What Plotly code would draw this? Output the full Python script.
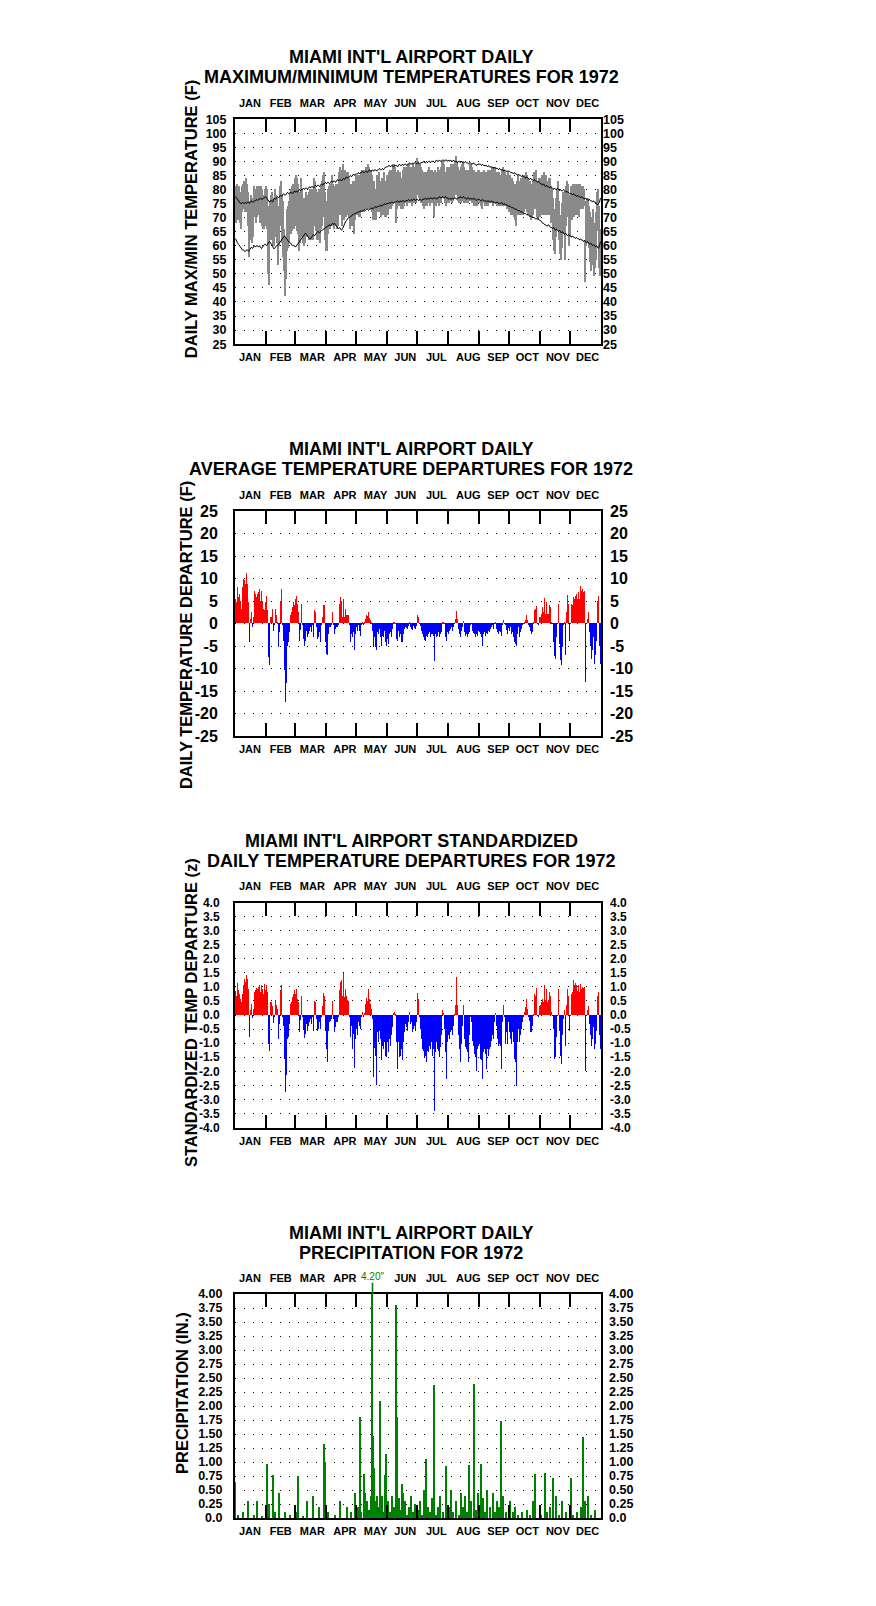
import numpy as np
import plotly.graph_objects as go

# ---------------------------------------------------------------- data
MONTHS = ["JAN", "FEB", "MAR", "APR", "MAY", "JUN", "JUL", "AUG", "SEP", "OCT", "NOV", "DEC"]
DAYS_IN_MONTH = [31, 29, 31, 30, 31, 30, 31, 31, 30, 31, 30, 31]

# daily maximum temperature (F), Jan..Dec 1972
tmax = [
    81, 79, 82, 80, 81, 79, 77, 81, 82, 83, 82, 84, 82, 79, 70, 76, 78, 75, 77, 81, 80, 80, 81, 80, 81, 79, 81, 80, 78, 77, 80,
    81, 80, 74, 68, 76, 78, 79, 75, 77, 80, 78, 77, 73, 74, 81, 83, 78, 76, 66, 63, 63, 73, 74, 76, 79, 80, 81, 82, 81,
    84, 85, 84, 82, 78, 79, 84, 80, 77, 76, 77, 79, 77, 78, 79, 80, 79, 80, 78, 84, 83, 80, 78, 79, 80, 78, 81, 83, 85, 86, 79,
    76, 75, 80, 81, 82, 82, 85, 82, 80, 81, 82, 82, 82, 86, 88, 87, 84, 89, 85, 87, 86, 86, 86, 84, 79, 82, 81, 83, 78, 83,
    85, 84, 85, 85, 83, 86, 87, 86, 87, 87, 88, 88, 89, 88, 87, 87, 85, 80, 83, 80, 79, 85, 84, 86, 83, 81, 84, 84, 86, 83, 82,
    85, 84, 86, 87, 85, 87, 89, 89, 88, 86, 84, 87, 85, 86, 84, 84, 87, 88, 88, 88, 88, 89, 89, 88, 88, 88, 89, 88, 88, 89,
    91, 90, 89, 89, 88, 87, 86, 86, 85, 86, 86, 87, 88, 86, 87, 87, 86, 79, 87, 86, 86, 88, 86, 87, 88, 90, 90, 89, 86, 85, 88,
    87, 88, 88, 89, 88, 89, 89, 90, 92, 90, 88, 87, 86, 88, 89, 90, 88, 86, 87, 86, 87, 87, 89, 89, 88, 87, 87, 86, 86, 86, 87,
    87, 86, 86, 83, 86, 87, 86, 86, 86, 87, 86, 87, 87, 88, 87, 88, 88, 86, 86, 85, 86, 85, 84, 87, 88, 87, 86, 85, 84, 86,
    85, 85, 84, 84, 83, 82, 82, 82, 83, 85, 82, 83, 84, 84, 85, 85, 85, 86, 85, 84, 83, 83, 82, 82, 83, 86, 86, 87, 83, 83, 84,
    84, 84, 85, 84, 86, 83, 85, 83, 83, 84, 84, 81, 80, 77, 73, 72, 77, 80, 83, 76, 71, 70, 75, 79, 79, 72, 81, 83, 82, 75,
    78, 81, 81, 82, 82, 82, 82, 81, 82, 81, 82, 81, 81, 81, 80, 62, 76, 77, 77, 74, 72, 68, 70, 73, 66, 68, 72, 79, 80, 74, 66,
]

# daily minimum temperature (F)
tmin = [
    68, 68, 71, 69, 70, 68, 66, 72, 74, 73, 72, 75, 72, 67, 56, 62, 63, 61, 63, 70, 70, 68, 70, 71, 72, 68, 71, 67, 66, 66, 67,
    70, 66, 50, 46, 63, 62, 65, 60, 60, 63, 63, 61, 53, 60, 67, 70, 61, 56, 51, 42, 48, 58, 59, 61, 64, 64, 65, 66, 66,
    67, 68, 65, 64, 58, 61, 67, 63, 61, 60, 61, 63, 63, 63, 62, 63, 62, 64, 62, 67, 67, 65, 62, 62, 63, 61, 66, 67, 70, 70, 62,
    58, 58, 64, 67, 66, 67, 70, 67, 66, 67, 67, 66, 67, 71, 72, 71, 67, 72, 69, 71, 70, 71, 71, 70, 66, 67, 67, 68, 64, 69,
    71, 71, 72, 70, 70, 72, 72, 72, 72, 73, 74, 73, 74, 73, 74, 73, 72, 69, 70, 69, 69, 72, 72, 72, 72, 70, 72, 71, 72, 70, 70,
    72, 71, 73, 73, 73, 74, 75, 75, 75, 68, 73, 74, 74, 74, 73, 73, 73, 74, 75, 75, 74, 75, 76, 75, 75, 74, 75, 75, 75, 75,
    78, 79, 77, 76, 75, 75, 74, 73, 74, 75, 74, 75, 75, 74, 75, 75, 75, 70, 75, 74, 75, 75, 74, 75, 75, 77, 77, 77, 75, 74, 75,
    75, 75, 76, 76, 75, 76, 77, 78, 79, 78, 76, 75, 75, 75, 76, 77, 75, 75, 75, 75, 75, 76, 76, 77, 75, 75, 74, 74, 75, 74, 75,
    75, 75, 74, 73, 75, 75, 74, 75, 74, 74, 75, 75, 75, 75, 74, 75, 75, 75, 74, 74, 74, 74, 74, 74, 75, 74, 75, 74, 73, 73,
    72, 73, 71, 72, 71, 70, 69, 67, 71, 72, 71, 71, 71, 72, 71, 72, 73, 73, 72, 71, 71, 70, 69, 70, 71, 73, 74, 73, 70, 69, 71,
    70, 71, 72, 71, 74, 71, 73, 71, 71, 72, 71, 68, 68, 62, 58, 57, 63, 66, 72, 62, 57, 55, 59, 64, 65, 55, 67, 72, 70, 60,
    63, 70, 69, 71, 70, 71, 72, 71, 73, 70, 74, 73, 74, 73, 74, 47, 60, 61, 64, 59, 54, 51, 53, 57, 49, 52, 55, 65, 66, 52, 49,
]

# normal daily maximum (F)
normal_max = [
    77.5, 77, 76.5, 76, 75.5, 75, 75, 75.5, 75, 75, 75.5, 75, 75.5, 75.5, 75, 75.5, 76, 75.5, 75.5, 76, 76, 76.5, 76, 76.5, 76.5, 77, 76.5, 76.5, 77, 77, 77.5,
    77, 76.5, 76, 75.5, 76, 76, 75.5, 76.5, 77, 76.5, 77, 77.5, 77, 77.5, 78, 77.5, 78, 78.5, 78, 78, 78.5, 79, 78.5, 78.5, 79, 79, 78.5, 79, 79.5,
    79, 79.5, 79, 79.5, 80, 79.5, 80, 80, 80.5, 80, 80.5, 80.5, 80, 80.5, 81, 80.5, 81, 81, 80.5, 81, 81.5, 81, 81.5, 81.5, 81, 81.5, 82, 81.5, 82, 82, 82.5,
    82, 82.5, 82.5, 82, 82.5, 83, 82.5, 83, 83, 82.5, 83, 83.5, 83, 83.5, 83.5, 83, 83.5, 84, 83.5, 84, 84.5, 84, 84.5, 84.5, 85, 84.5, 85, 85.5, 85, 85.5,
    85.5, 85.5, 86, 85.5, 86, 86, 86.5, 86, 86, 86.5, 86.5, 86, 86.5, 87, 86.5, 86.5, 87, 86.5, 87, 87, 86.5, 87, 87, 87.5, 87, 87, 87.5, 87, 87.5, 88, 88,
    88, 88.5, 88.5, 88, 88.5, 88.5, 88, 88.5, 88.5, 88.5, 88, 88.5, 89, 88.5, 88.5, 89, 88.5, 89, 89, 88.5, 89, 89, 89.5, 89, 89, 89.5, 89, 89.5, 89.5, 89,
    89.5, 89.5, 89, 89.5, 89.5, 89.5, 90, 89.5, 89.5, 90, 89.5, 90, 90, 89.5, 90, 90, 90, 89.5, 90, 90.5, 90, 90, 90.5, 90, 90, 90.5, 90.5, 90, 90.5, 90.5, 90,
    90.5, 90, 90.5, 90, 90, 90.5, 90, 90, 90, 89.5, 90, 90, 89.5, 90, 89.5, 89.5, 89.5, 90, 89.5, 89.5, 89, 89.5, 89.5, 89, 89, 89.5, 89, 89, 88.5, 89, 89,
    89, 89, 88.5, 89, 88.5, 88.5, 88.5, 88.5, 88, 88.5, 88, 88, 88, 88, 87.5, 88, 87.5, 87.5, 87.5, 87, 87.5, 87, 87, 87, 86.5, 87, 86.5, 86.5, 86.5, 86.5,
    86.5, 86, 86, 86, 85.5, 86, 85.5, 85.5, 85, 85.5, 85, 85, 84.5, 85, 84.5, 84.5, 84, 84.5, 84, 84, 83.5, 84, 83.5, 83.5, 83, 83.5, 83, 83, 82.5, 83, 82.5,
    82, 82, 81.5, 82, 81.5, 81, 81.5, 81, 81, 80.5, 81, 80.5, 80.5, 80, 80.5, 80, 80, 80.5, 80, 79.5, 80, 79.5, 79.5, 80, 79.5, 79, 79.5, 79, 79, 78.5,
    78.5, 78.5, 78, 78.5, 78, 78, 77.5, 78, 77.5, 77.5, 77, 77.5, 77, 77, 76.5, 77, 76.5, 76.5, 76, 76.5, 76, 76, 75.5, 76, 75.5, 75.5, 75, 74.5, 75, 75.5, 77,
]

# normal daily minimum (F)
normal_min = [
    62.5, 61.5, 61, 60.5, 60, 59.5, 59, 58.5, 58.5, 58, 58, 58.5, 58.5, 58, 58.5, 59, 59.5, 59, 59.5, 60, 59.5, 60, 60, 59.5, 60, 59.5, 59, 59.5, 60, 60.5, 60.5,
    60, 60.5, 61, 61.5, 61, 60.5, 60, 59, 59, 59.5, 60, 60, 60.5, 61, 61.5, 62, 62.5, 63, 63.5, 63, 62.5, 62, 61.5, 61, 61, 60.5, 60, 60, 60,
    59.5, 60, 60.5, 61, 61.5, 62, 62.5, 63, 63.5, 64, 64.5, 64, 63.5, 63, 62.5, 62.5, 63, 63.5, 64, 63.5, 64, 64.5, 65, 65, 64.5, 65, 65.5, 65.5, 66, 66, 66.5,
    66.5, 67, 67, 67.5, 67, 67.5, 68, 67.5, 68, 67.5, 67, 66.5, 66, 66.5, 66, 65.5, 66, 67, 68, 68.5, 69, 69.5, 70, 70, 70.5, 70.5, 71, 71, 71.5, 71.5,
    71.5, 72, 72, 72, 72.5, 72, 72.5, 72.5, 73, 72.5, 73, 73, 72.5, 73, 73, 73.5, 73, 73.5, 73.5, 74, 73.5, 74, 74, 74, 74.5, 74, 74.5, 74.5, 75, 74.5, 75,
    75, 75, 75.5, 75, 75.5, 75.5, 75, 75.5, 75.5, 75.5, 76, 75.5, 75.5, 76, 75.5, 76, 76, 75.5, 76, 76, 76, 76.5, 76, 76, 76.5, 76, 76.5, 76.5, 76, 76.5,
    76.5, 76, 76.5, 76.5, 76, 76.5, 76.5, 76.5, 77, 76.5, 76.5, 77, 76.5, 77, 77, 76.5, 77, 77, 77, 76.5, 77, 77, 77.5, 77, 77, 77.5, 77, 77, 77.5, 77, 77,
    76.5, 77, 76.5, 76.5, 77, 76.5, 77, 77, 76.5, 77, 77, 77, 77.5, 77, 77, 77.5, 77, 77, 76.5, 77, 77, 76.5, 77, 76.5, 76.5, 77, 76.5, 76.5, 76, 76.5, 76.5,
    76.5, 76, 76, 76.5, 76, 76, 76, 75.5, 76, 76, 75.5, 75.5, 76, 75.5, 75.5, 75.5, 75, 75.5, 75.5, 75, 75, 75, 75.5, 75, 74.5, 75, 74.5, 74.5, 74.5, 74,
    74, 74, 73.5, 73.5, 73.5, 73, 73, 73, 72.5, 72.5, 72.5, 72, 72, 72, 71.5, 71.5, 71.5, 71, 71, 71, 70.5, 70.5, 70.5, 70, 70, 70, 69.5, 69.5, 70, 69.5, 69,
    69, 68.5, 68, 68, 67.5, 67.5, 67, 67, 67.5, 67, 66.5, 66.5, 66, 66.5, 66, 65.5, 66, 65.5, 65, 65.5, 65, 64.5, 65, 64.5, 64, 64.5, 64, 63.5, 64, 63.5,
    63.5, 63, 63.5, 63, 63, 62.5, 63, 62.5, 62.5, 62, 62.5, 62, 62, 61.5, 62, 61.5, 61, 61.5, 61, 60.5, 61, 60.5, 60, 60.5, 60, 59.5, 60, 59.5, 59, 60, 61.5,
]

# daily average temperature departure from normal (F)
departure = [
    5.5, 4.7, 8.1, 5.9, 6.6, 5.1, 3.3, 8.1, 9.9, 9.6, 8.8, 11.2, 8.8, 4.7, -4.1, 1.0, 2.5, -0.7, 1.5, 7.3, 6.6, 5.9, 6.6, 7.0, 7.7, 5.1, 7.3, 5.1, 3.3, 2.9, 4.7,
    6.2, 2.9, -7.5, -9.3, 1.4, 1.4, 3.3, -1.6, -0.2, 3.3, 1.8, 0.3, -5.3, -1.9, 5.1, 7.7, -0.3, -3.8, -10.4, -17.5, -13.3, -4.9, -4.1, -1.9, 1.8, 2.5, 3.6, 4.7, 4.0,
    5.5, 6.2, 4.4, 2.5, -3.8, -1.5, 4.4, -0.4, -3.4, -4.9, -3.8, -1.6, -3.0, -2.3, -1.6, -0.8, -1.9, -0.3, -3.0, 2.9, 2.5, -0.8, -3.4, -3.0, -1.9, -4.1, -0.4, 1.4, 4.0, 4.2, -4.1,
    -6.7, -7.1, -2.3, -0.8, -0.8, -0.2, 2.5, -0.4, -2.3, -1.2, -0.7, -0.8, -0.4, 4.4, 5.9, 5.1, 1.4, 5.5, 1.4, 3.3, 1.8, 1.8, 1.8, -0.2, -4.1, -2.3, -3.0, -1.9, -6.0, -2.3,
    -0.8, -1.6, -0.4, -1.6, -2.7, -0.2, 0.3, -0.2, 0.3, 1.0, 1.8, 1.6, 2.5, 1.2, 0.8, 0.3, -1.6, -5.3, -3.0, -5.3, -6.0, -1.9, -2.3, -1.2, -3.0, -4.9, -2.7, -3.0, -1.6, -4.1, -4.9,
    -3.4, -4.5, -2.3, -1.9, -3.0, -1.2, 0.2, 0.2, 0.1, -3.4, -3.8, -1.6, -3.0, -2.3, -4.1, -4.1, -2.3, -1.2, -0.8, -1.0, -1.2, -0.5, 0.2, -0.8, -1.2, -1.4, -0.5, -1.0, -1.2, -0.6,
    1.8, 1.5, -0.1, -0.5, -1.6, -2.3, -3.0, -3.6, -3.8, -2.7, -3.0, -2.3, -1.9, -3.0, -2.4, -2.3, -2.8, -8.4, -2.3, -3.0, -2.7, -1.9, -3.0, -2.3, -1.9, 0.2, 0.2, -0.1, -3.0, -3.8, -1.9,
    -2.3, -1.6, -1.2, -0.8, -1.6, -0.8, -0.1, 1.0, 2.7, 1.0, -1.2, -2.3, -3.0, -1.6, -0.8, 0.6, -1.9, -2.7, -2.4, -3.0, -2.3, -1.9, -0.4, -0.1, -1.6, -2.1, -2.4, -3.0, -2.4, -2.8, -1.6,
    -1.9, -2.3, -3.0, -5.1, -2.3, -1.9, -2.7, -2.1, -2.3, -1.6, -1.9, -1.2, -0.8, -0.4, -1.2, -0.1, 0.2, -1.2, -1.9, -2.3, -1.6, -2.0, -2.8, -0.2, 0.8, -0.1, -0.4, -1.4, -2.3, -0.9,
    -1.6, -0.8, -2.3, -1.9, -3.0, -4.1, -4.5, -5.1, -2.3, -0.8, -3.0, -1.9, -1.2, -0.4, -0.1, 0.3, 0.8, 1.8, 0.7, -0.4, -0.8, -1.6, -2.3, -1.9, 0.2, 3.0, 3.3, 3.8, -0.1, -0.3, 1.4,
    1.5, 2.1, 3.6, 2.5, 5.7, 2.1, 4.7, 2.1, 2.0, 4.0, 3.6, 0.3, -0.1, -4.1, -7.3, -7.9, -3.0, -0.1, 4.4, -4.5, -8.2, -9.3, -5.2, -0.4, 0.3, -6.9, 2.5, 6.4, 4.4, -3.9,
    -0.1, 4.4, 4.0, 5.9, 5.5, 6.0, 6.6, 5.5, 7.0, 5.5, 8.4, 7.3, 7.6, 7.1, 7.3, -13.0, -0.1, 1.0, 2.5, -2.0, -5.0, -8.0, -6.0, -3.0, -9.0, -7.0, -4.0, 5.0, 6.0, -5.0, -9.0,
]

# standardized daily departure (z)
std_departure = [
    0.86, 0.71, 1.17, 0.9, 0.77, 0.6, 0.48, 0.77, 1.07, 1.31, 1.19, 1.45, 1.29, 0.95, -0.77, 0.2, 0.42, -0.1, 0.24, 0.83, 0.89, 0.98, 0.93, 1.01, 1.07, 0.83, 1.07, 0.95, 0.77, 1.13, 0.89,
    1.1, 0.83, -1.01, -1.25, 0.48, 0.48, 0.33, -0.27, -0.03, 0.54, 0.36, 0.24, -0.83, -0.3, 0.9, 1.1, -0.04, -0.36, -1.55, -2.71, -2.1, -0.83, -0.77, -0.3, 0.42, 0.48, 0.65, 0.77, 0.9,
    0.77, 0.93, 0.6, 0.48, -0.6, -0.15, 0.71, -0.02, -0.5, -0.8, -0.65, -0.3, -0.54, -0.36, -0.24, -0.14, -0.3, -0.03, -0.54, 0.5, 0.48, -0.12, -0.54, -0.48, -0.24, -0.48, -0.06, 0.33, 0.81, 0.71, -0.54,
    -1.19, -1.67, -0.54, -0.24, -0.18, -0.12, 0.5, -0.12, -0.6, -0.42, -0.24, -0.24, -0.06, 0.9, 1.19, 1.25, 0.69, 1.52, 0.65, 0.95, 0.69, 0.54, 0.5, -0.02, -0.77, -0.36, -1.19, -0.65, -1.88, -0.83,
    -0.48, -0.71, -0.24, -0.36, -0.48, -0.06, 0.14, -0.06, 0.08, 0.42, 0.62, 0.5, 0.95, 0.6, 0.42, 0.24, -0.12, -2.2, -1.17, -1.43, -2.48, -0.6, -0.95, -0.54, -0.83, -1.6, -1.07, -1.19, -0.95, -1.43, -1.49,
    -0.95, -1.31, -0.83, -1.07, -0.71, -0.42, 0.1, 0.14, 0.06, -0.95, -1.9, -0.95, -1.49, -1.43, -1.19, -1.6, -0.95, -0.6, -0.3, -0.4, -0.54, -0.24, 0.14, -0.3, -0.24, -0.6, -0.48, -0.36, -0.54, -0.24,
    0.81, 0.6, -0.02, -0.48, -0.83, -1.19, -1.25, -1.49, -1.43, -1.67, -1.25, -1.31, -1.07, -1.19, -0.95, -1.43, -1.19, -3.39, -1.31, -0.95, -1.19, -1.25, -1.49, -1.13, -0.71, 0.18, 0.1, -0.48, -1.31, -2.26, -0.95,
    -0.71, -0.83, -0.6, -0.48, -0.71, -0.36, 0.02, 0.36, 1.37, 0.36, -0.71, -1.19, -1.67, -1.01, -0.36, 0.36, -0.83, -1.13, -1.19, -1.31, -1.67, -0.71, -0.02, -0.24, -0.89, -1.07, -1.37, -1.49, -1.96, -1.19, -1.07,
    -1.01, -1.55, -1.6, -2.26, -1.31, -1.19, -1.37, -1.9, -1.19, -1.43, -1.19, -1.13, -0.89, -0.71, -0.83, -0.24, 0.1, -0.36, -0.83, -1.07, -1.01, -1.07, -1.9, -0.24, 0.38, -0.02, -1.01, -0.6, -1.01, -0.24,
    -0.6, -0.83, -1.01, -0.6, -0.95, -1.55, -1.67, -2.5, -0.95, -0.48, -0.95, -0.71, -0.48, -0.24, -0.06, 0.12, 0.3, 0.57, 0.24, -0.06, -0.18, -0.6, -0.6, -0.36, 0.06, 0.77, 0.71, 0.98, -0.01, -0.06, 0.33,
    0.36, 0.48, 0.6, 0.48, 1.07, 0.54, 0.95, 0.48, 0.54, 0.83, 0.71, 0.12, -0.01, -0.48, -1.55, -1.49, -0.77, -0.01, 0.93, -0.54, -1.43, -1.73, -0.71, -0.12, 0.18, -1.07, 0.36, 0.95, 0.71, -0.54,
    -0.01, 0.77, 0.83, 1.25, 1.07, 1.17, 1.07, 0.86, 1.07, 0.83, 1.13, 0.95, 1.01, 0.98, 1.0, -1.96, -0.01, 0.18, 0.35, -0.3, -0.7, -1.1, -0.85, -0.4, -1.2, -1.0, -0.55, 0.7, 0.85, -0.7, -1.2,
]

# precipitation: day of year (1-based) and amount (inches) for days with rain
precip_day = [
    1, 4, 9, 14, 20, 23, 28, 33, 35, 39, 41, 45, 51, 56, 63, 64, 69, 73, 79, 85, 90, 91,
    94, 101, 106, 113, 117, 121, 124, 126, 127, 130, 131, 133, 135, 137, 138, 139, 140, 141,
    143, 145, 146, 148, 150, 151, 152, 154, 156, 158, 160, 162, 163, 165, 166, 168, 169, 171,
    173, 175, 177, 179, 181, 184, 186, 188, 190, 192, 194, 196, 198, 200, 202, 204, 206, 209,
    212, 215, 217, 219, 222, 225, 227, 229, 231, 233, 235, 237, 240, 242, 244, 246, 247, 249,
    251, 253, 256, 259, 261, 263, 265, 267, 269, 272, 276, 279, 281, 284, 288, 293, 296, 299,
    301, 307, 311, 313, 316, 319, 322, 325, 328, 332, 337, 339, 343, 347, 349, 351, 354, 357, 361,
]
precip_in = [
    0.65, 0.05, 0.10, 0.30, 0.05, 0.30, 0.02, 0.97, 0.25, 0.76, 0.10, 0.45, 0.10, 0.05, 0.10, 0.75, 0.02, 0.30, 0.40, 0.20, 1.32, 1.00,
    0.10, 0.05, 0.30, 0.20, 0.10, 0.45, 0.20, 1.81, 0.10, 0.78, 0.45, 0.30, 0.15, 0.40, 4.20, 1.46, 0.90, 0.30,
    0.40, 0.20, 2.09, 0.40, 0.10, 0.77, 1.15, 0.30, 0.10, 0.40, 0.20, 3.81, 1.80, 0.35, 0.15, 0.60, 0.45, 0.30,
    0.05, 0.20, 0.40, 0.10, 0.25, 0.15, 0.30, 0.05, 0.50, 1.05, 0.20, 0.10, 0.35, 2.37, 0.05, 0.20, 0.40, 0.10,
    0.93, 0.20, 0.50, 0.10, 0.30, 0.05, 0.45, 0.20, 0.40, 0.10, 0.94, 0.30, 2.39, 0.15, 0.45, 0.20, 0.97, 0.35,
    0.10, 0.50, 0.20, 0.45, 0.10, 0.30, 0.20, 1.74, 0.40, 0.10, 0.30, 0.10, 0.20, 0.05, 0.10, 0.15, 0.05, 0.30,
    0.78, 0.05, 0.80, 0.10, 0.20, 0.72, 0.40, 0.05, 0.30, 0.10, 0.72, 0.05, 0.10, 0.20, 1.45, 0.30, 0.40, 0.05, 0.15,
]

# ---------------------------------------------------------------- derived (for drawing only)
N_DAYS = sum(DAYS_IN_MONTH)
days = np.arange(1, N_DAYS + 1)
tmax_a = np.array(tmax, dtype=float)
tmin_a = np.array(tmin, dtype=float)
precip = np.zeros(N_DAYS)
precip[np.array(precip_day) - 1] = precip_in
for name, arr in [("tmax", tmax), ("tmin", tmin), ("normal_max", normal_max), ("normal_min", normal_min),
                  ("departure", departure), ("std_departure", std_departure)]:
    assert len(arr) == N_DAYS, (name, len(arr))
assert len(precip_day) == len(precip_in)

month_bounds = list(np.cumsum(DAYS_IN_MONTH)[:-1] + 0.5)
MONTH_LABEL_X = [15.5, 46.3, 77.8, 110.3, 141.0, 170.8, 201.8, 233.8, 263.8, 292.8, 323.3, 353.2]

# ---------------------------------------------------------------- layout helpers
# page is 876x1606; leave room for the page's own margins around the figure
PAGE_W, PAGE_H = 876, 1606
OFF_X, OFF_TOP, OFF_BOTTOM = 8, 16, 16
Y_STRETCH = 1.0108          # vertical calibration of the captured page
W, H = PAGE_W - 2 * OFF_X, PAGE_H - OFF_TOP - OFF_BOTTOM
FONT = "Liberation Sans, Arial, Helvetica, sans-serif"
PLOT_X = (235, 601)
RED, BLUE, GRAY, GREEN = "#ff0000", "#0000ff", "#8a8a8a", "#008000"


def fx(px):
    return (px - OFF_X) / W


def fy(py):
    return 1 - (Y_STRETCH * py - OFF_TOP) / H


def fmt_z(v):
    return f"{v:.1f}"


def fmt_p(v):
    return "0.0" if v == 0 else f"{v:.2f}"


panels = [
    dict(top=119, bottom=344, yrange=[25, 105], tv=list(range(25, 106, 5)),
         tt=[str(v) for v in range(25, 106, 5)], tsize=12.5, lstand=4, rstand=1,
         title=["MIAMI INT'L AIRPORT DAILY", "MAXIMUM/MINIMUM TEMPERATURES FOR 1972"], title_y=[56.7, 76.7],
         ytitle="DAILY MAX/MIN TEMPERATURE (F)", ytitle_xy=(191, 219), top_months=MONTHS),
    dict(top=511, bottom=736, yrange=[-25, 25], tv=list(range(-25, 26, 5)),
         tt=[str(v) for v in range(-25, 26, 5)], tsize=16, lstand=12, rstand=8,
         title=["MIAMI INT'L AIRPORT DAILY", "AVERAGE TEMPERATURE DEPARTURES FOR 1972"], title_y=[448.5, 469],
         ytitle="DAILY TEMPERATURE DEPARTURE (F)", ytitle_xy=(186, 635), top_months=MONTHS),
    dict(top=902.5, bottom=1127.5, yrange=[-4, 4], tv=[v / 2 for v in range(-8, 9)],
         tt=[fmt_z(v / 2) for v in range(-8, 9)], tsize=12, lstand=11, rstand=8,
         title=["MIAMI INT'L AIRPORT STANDARDIZED", "DAILY TEMPERATURE DEPARTURES FOR 1972"], title_y=[840.7, 861.2],
         ytitle="STANDARDIZED TEMP DEPARTURE (z)", ytitle_xy=(191, 1013), top_months=MONTHS),
    dict(top=1294, bottom=1518, yrange=[0, 4], tv=[v / 4 for v in range(0, 17)],
         tt=[fmt_p(v / 4) for v in range(0, 17)], tsize=12.5, lstand=8, rstand=7,
         title=["MIAMI INT'L AIRPORT DAILY", "PRECIPITATION FOR 1972"], title_y=[1233.3, 1253.3],
         ytitle="PRECIPITATION (IN.)", ytitle_xy=(182, 1393),
         top_months=[m if m != "MAY" else "" for m in MONTHS]),
]

fig = go.Figure()
layout = dict(width=W, height=H, margin=dict(l=0, r=0, t=0, b=0), autosize=False,
              paper_bgcolor="white", plot_bgcolor="white", showlegend=False,
              barmode="overlay", bargap=0, font=dict(family=FONT, color="black"),
              annotations=[])


def ax_name(kind, n):
    return f"{kind}axis" if n == 1 else f"{kind}axis{n}"


def ax_ref(kind, n):
    return kind if n == 1 else f"{kind}{n}"


month_font = dict(family=FONT, size=11, color="black", weight="bold")
minor_ticks = dict(tickmode="array", tickvals=month_bounds, ticks="inside", ticklen=13,
                   tickwidth=1.5, tickcolor="black", showgrid=False)

for i, p in enumerate(panels):
    xb, xt, yl, yr = 2 * i + 1, 2 * i + 2, 2 * i + 1, 2 * i + 2
    ydom = [fy(p["bottom"]), fy(p["top"])]
    xdom = [fx(PLOT_X[0]), fx(PLOT_X[1])]
    yfont = dict(family=FONT, size=p["tsize"], color="black", weight="bold")
    layout[ax_name("x", xb)] = dict(
        domain=xdom, range=[0.5, N_DAYS + 0.5], anchor=ax_ref("y", yl),
        tickmode="array", tickvals=MONTH_LABEL_X, ticktext=MONTHS, ticks="",
        tickfont=month_font, ticklabelstandoff=2,
        showline=True, linecolor="black", linewidth=2, mirror=True,
        showgrid=False, zeroline=False, minor=minor_ticks, fixedrange=True)
    layout[ax_name("x", xt)] = dict(
        overlaying=ax_ref("x", xb), side="top", range=[0.5, N_DAYS + 0.5], anchor=ax_ref("y", yl),
        tickmode="array", tickvals=MONTH_LABEL_X, ticktext=p["top_months"], ticks="",
        tickfont=month_font, ticklabelstandoff=9,
        showline=False, showgrid=False, zeroline=False, minor=minor_ticks, fixedrange=True)
    layout[ax_name("y", yl)] = dict(
        domain=ydom, range=p["yrange"], anchor=ax_ref("x", xb),
        tickmode="array", tickvals=p["tv"], ticktext=p["tt"], ticks="",
        tickfont=yfont, ticklabelstandoff=p["lstand"],
        showline=True, linecolor="black", linewidth=2, mirror=True,
        showgrid=True, gridcolor="black", gridwidth=1, griddash="1px,8px",
        zeroline=False, fixedrange=True)
    layout[ax_name("y", yr)] = dict(
        overlaying=ax_ref("y", yl), side="right", range=p["yrange"], anchor=ax_ref("x", xb),
        tickmode="array", tickvals=p["tv"], ticktext=p["tt"], ticks="",
        tickfont=yfont, ticklabelstandoff=p["rstand"],
        showline=False, showgrid=False, zeroline=False, fixedrange=True)
    # empty trace so the top / right helper axes are always rendered
    fig.add_trace(go.Scatter(x=[], y=[], xaxis=ax_ref("x", xt), yaxis=ax_ref("y", yr),
                             showlegend=False, hoverinfo="skip"))
    # titles
    for line, ty in zip(p["title"], p["title_y"]):
        layout["annotations"].append(dict(
            text=line, x=fx(411), y=fy(ty), xref="paper", yref="paper",
            xanchor="center", yanchor="middle", showarrow=False,
            font=dict(family=FONT, size=18, color="black", weight="bold")))
    tx, ty = p["ytitle_xy"]
    layout["annotations"].append(dict(
        text=p["ytitle"], x=fx(tx), y=fy(ty), xref="paper", yref="paper",
        xanchor="center", yanchor="middle", showarrow=False, textangle=-90,
        font=dict(family=FONT, size=16.5, color="black", weight="bold")))

# ---- panel 1: daily max/min range bars with normal lines
fig.add_trace(go.Bar(x=days, y=tmax_a - tmin_a, base=tmin_a, width=1.15,
                     marker=dict(color=GRAY, line=dict(width=0)),
                     xaxis="x", yaxis="y", hoverinfo="skip"))
fig.add_trace(go.Scatter(x=days, y=normal_max, mode="lines", line=dict(color="black", width=1),
                         xaxis="x", yaxis="y", hoverinfo="skip"))
fig.add_trace(go.Scatter(x=days, y=normal_min, mode="lines", line=dict(color="black", width=1),
                         xaxis="x", yaxis="y", hoverinfo="skip"))

# ---- panel 2: departures
fig.add_trace(go.Bar(x=days, y=departure, width=1,
                     marker=dict(color=[RED if v > 0 else BLUE for v in departure], line=dict(width=0)),
                     xaxis="x3", yaxis="y3", hoverinfo="skip"))

# ---- panel 3: standardized departures
fig.add_trace(go.Bar(x=days, y=std_departure, width=1,
                     marker=dict(color=[RED if v > 0 else BLUE for v in std_departure], line=dict(width=0)),
                     xaxis="x5", yaxis="y5", hoverinfo="skip"))

# ---- panel 4: precipitation
P_TOP = panels[3]["yrange"][1]
fig.add_trace(go.Bar(x=days, y=precip, width=1.3,
                     marker=dict(color=GREEN, line=dict(width=0)),
                     xaxis="x7", yaxis="y7", hoverinfo="skip"))
# amounts above the axis top: the bar continues past the frame up to a label
px_per_unit = Y_STRETCH * (panels[3]["bottom"] - panels[3]["top"]) / (P_TOP - panels[3]["yrange"][0])
for d, v in zip(days, precip):
    if v > P_TOP:
        layout["annotations"].append(dict(
            x=int(d), y=P_TOP, xref="x7", yref="y7", text=f'{v:.2f}"',
            showarrow=True, arrowhead=0, arrowwidth=1.6, arrowcolor=GREEN,
            ax=0, ay=-((v - P_TOP) * px_per_unit + 6), standoff=0, startstandoff=0,
            borderpad=0, font=dict(family=FONT, size=10, color=GREEN)))

fig.update_layout(**layout)
fig.write_html("out.html", config={"displayModeBar": False})
